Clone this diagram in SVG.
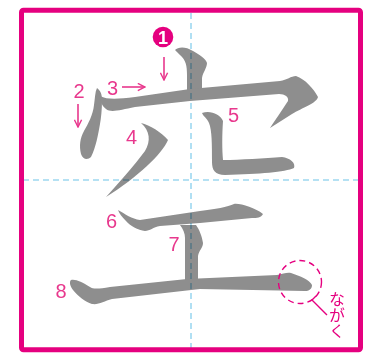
<svg xmlns="http://www.w3.org/2000/svg" width="383" height="358" viewBox="0 0 383 358">
<defs>
<style>
.stk{fill:#8e8e8e}
.guide{stroke:#9dd8f0;stroke-width:1.6;stroke-dasharray:6 4;fill:none;mix-blend-mode:multiply}
.num{font-family:"Liberation Sans",Arial,sans-serif;font-size:20px;fill:#e8388d;text-anchor:middle}
.arr{stroke:#e8388d;stroke-width:1.6;fill:none;marker-end:url(#ah)}
</style>
<marker id="ah" viewBox="0 0 10 10" refX="9" refY="5" markerWidth="9" markerHeight="9" orient="auto" markerUnits="userSpaceOnUse">
<path d="M1,1 L9,5 L1,9" fill="none" stroke="#e8388d" stroke-width="1.6"/>
</marker>
</defs>
<rect width="383" height="358" fill="#ffffff"/>
<g id="strokes">
<path id="s1" class="stk" d="M175,50 C178,47 185,46 193,51 C200,55 206,59 207,63 C207,68 203,72 202,78 L202,92 L187,93 L187,75 C187,66 186,60 180,55 Z"/>
<path id="s2" class="stk" d="M97,88 C101,91 102,95 102,100 C102,110 101,118 100,124 C98,135 96,147 91,157 C88,160 83,160 81,154 C79,146 80,138 84,131 C88,124 93,115 94,105 C95,98 95,92 97,88 Z"/>
<path id="s3" class="stk" d="M100,96 C108,100 118,99 135,97 L190,89 L280,81 C287,80 291,76 296,76 C305,79 314,89 318,97 C317,103 302,108 292,114 L270,128 C274,122 282,110 288,101 C289,97 285,94 279,94 L190,101 L135,107 C120,110 111,113 106,109 C102,106 100,101 100,96 Z"/>
<path id="s4" class="stk" d="M141,123 C150,125 161,132 168,140 C162,154 138,177 106,197 C116,186 134,166 145,151 C151,141 150,131 141,123 Z"/>
<path id="s5" class="stk" d="M202,113 C210,110 220,114 223,121 C222,135 222,150 223,160 C240,160 265,158 282,157 C290,158 296,163 294,168 C285,172 260,174 225,175 C215,175 212,170 212,162 C212,145 212,130 209,123 C207,118 203,116 202,113 Z"/>
<path id="s6" class="stk" d="M118,210 C125,214 132,219 140,220 L200,211 C215,209 228,207 234,204 C240,203 255,208 263,214 C261,218 257,218 252,218 L200,223 L160,226 C153,227 150,231 145,231 C138,230 130,226 126,221 C122,217 119,213 118,210 Z"/>
<path id="s7" class="stk" d="M180,225 L196,225 C199,229 202,236 203,243 C203,248 199,250 198,256 L198,280 L185,280 L185,238 C185,233 183,229 180,225 Z"/>
<path id="s8" class="stk" d="M71,280 C76,279 82,282 90,287 C93,289 98,289 110,287 L187,279 L277,275 C283,274 287,272 291,273 C300,276 310,280 312,285 C312,289 309,291 305,291 L200,289 L112,299 C104,301 99,305 92,304 C85,302 78,296 73,290 C70,286 69,282 71,280 Z"/>
</g>
<g id="guides">
<line class="guide" x1="191" y1="13" x2="191" y2="348"/>
<line class="guide" x1="23" y1="180" x2="358" y2="180"/>
</g>
<rect id="frame" x="21.5" y="10.3" width="339" height="339.5" rx="2" fill="none" stroke="#e5007f" stroke-width="5"/>
<g id="labels">
<g id="n1">
<circle cx="163" cy="37" r="10.3" fill="#e5007f"/>
<text x="163" y="43.5" font-family="Liberation Sans,Arial,sans-serif" font-size="18" font-weight="bold" fill="#ffffff" text-anchor="middle">1</text>
</g>
<text class="num" x="79" y="98">2</text>
<text class="num" x="112.5" y="95">3</text>
<text class="num" x="131.5" y="144">4</text>
<text class="num" x="233.5" y="122">5</text>
<text class="num" x="111.5" y="228">6</text>
<text class="num" x="174" y="251">7</text>
<text class="num" x="61" y="298">8</text>
</g>
<g id="connectors">
<path class="arr" d="M164,57 L164,80"/>
<path class="arr" d="M78,104 L78,127"/>
<path class="arr" d="M122,87 L145,87"/>
</g>
<g id="note">
<circle cx="300" cy="282" r="21.5" fill="none" stroke="#e5007f" stroke-width="1.4" stroke-dasharray="6 4"/>
<path d="M316,296 L312,300 L327,315" fill="none" stroke="#e5007f" stroke-width="1.4"/>
<text x="337" y="291" font-family="Noto Sans CJK JP,sans-serif" font-size="16" fill="#e5007f" writing-mode="tb" style="writing-mode:vertical-rl">ながく</text>
</g>
</svg>
